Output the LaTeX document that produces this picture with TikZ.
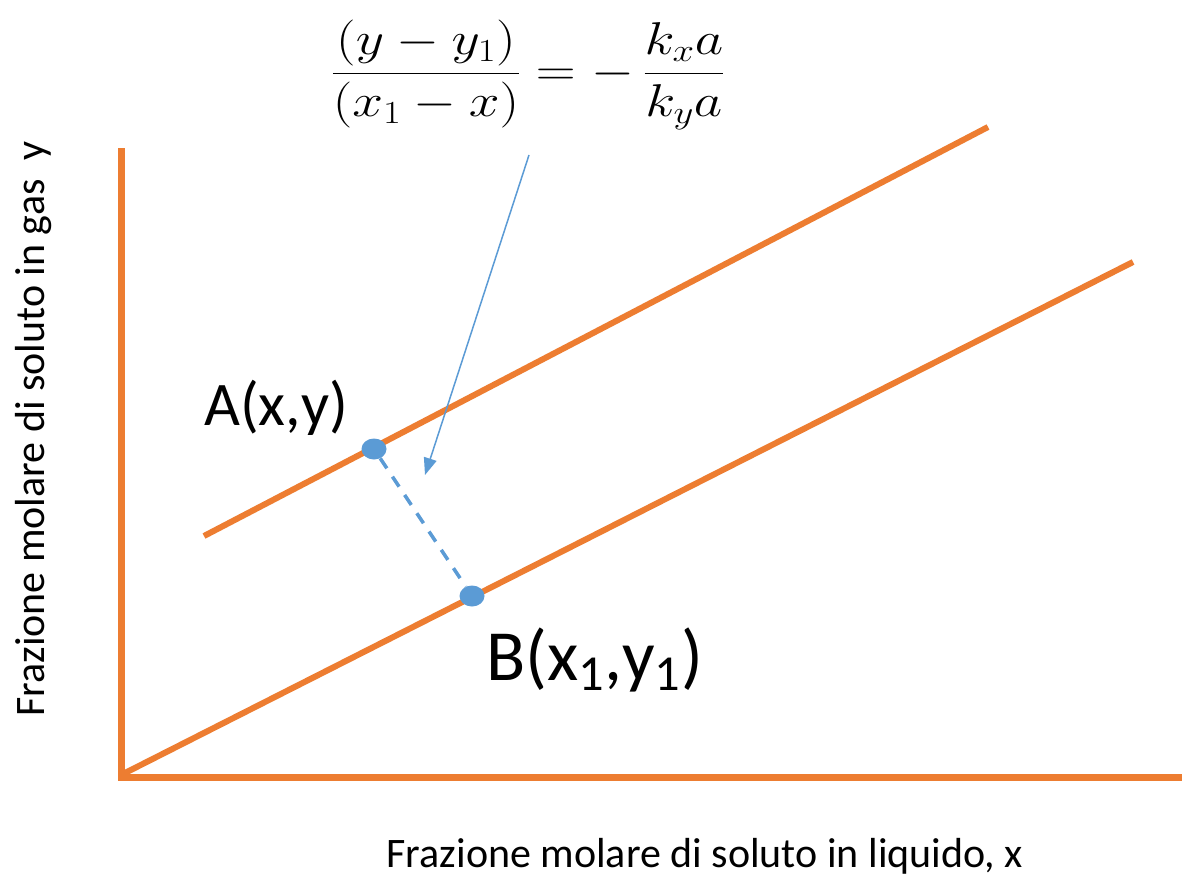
\RequirePackage{fix-cm}
\documentclass[tikz,border=0pt]{standalone}
\usepackage{amsmath}
\usepackage{fontspec}
\setmainfont{Carlito}
\usetikzlibrary{arrows.meta,shapes.geometric}
\definecolor{orng}{RGB}{237,125,49}
\definecolor{blu}{RGB}{91,155,213}
\begin{document}
\begin{tikzpicture}[x=1pt,y=-1pt,
  axisline/.style={draw=orng,line width=7pt},
  curveline/.style={draw=orng,line width=6pt},
  pt/.style={ellipse,fill=blu,minimum width=25pt,minimum height=21pt,inner sep=0pt},
  lbl/.style={font=\fontsize{42}{50}\selectfont,inner sep=0pt},
  ptlbl/.style={inner sep=0pt,anchor=base west},
  tie/.style={draw=blu,line width=3.5pt,dash pattern=on 12pt off 10pt},
  pointer/.style={draw=blu,line width=1.5pt,-{Triangle[length=17pt,width=13pt]}}]
\useasboundingbox (0,0) rectangle (1182,880);
\fill[white] (0,0) rectangle (1182,880);
% axes
\coordinate (ytop) at (121,148);
\coordinate (origin) at (121,777);
\coordinate (xend) at (1182,777);
\draw[axisline] (ytop) -- (121,780.5);
\draw[axisline] (origin) -- (xend);
% lines
\coordinate (u1) at (204,536);
\coordinate (u2) at (988,127);
\coordinate (l1) at (121,775);
\coordinate (l2) at (1133,262);
\draw[curveline] (u1) -- (u2);
\draw[curveline] (l1) -- (l2);
% points
\node[pt] (A) at (374,449) {};
\node[pt] (B) at (472,596) {};
\draw[tie] (A) -- (B);
% labels
\node[ptlbl,font=\fontsize{62}{70}\selectfont] (la) at (204,425) {A(x,y)};
\node[ptlbl,font=\fontsize{72}{80}\selectfont] (lb) at (486,680) {B(x\textsubscript{1},y\textsubscript{1})};
% formula
\node[inner sep=0pt] (eq) at (528,75) {\scalebox{1.2}[1]{\fontsize{46}{55}\selectfont$\dfrac{(y-y_1)}{(x_1-x)}=-\,\dfrac{k_xa}{k_ya}$}};
\coordinate (arrstart) at (529,155);
\coordinate (arrend) at (425,475);
\draw[pointer] (arrstart) -- (arrend);
% axis labels
\node[lbl] (xlab) at (705,856) {Frazione molare di soluto in liquido, x};
\node[lbl,rotate=90] (ylab) at (34,429) {Frazione molare di soluto in gas\ \ y};
\end{tikzpicture}
\end{document}
